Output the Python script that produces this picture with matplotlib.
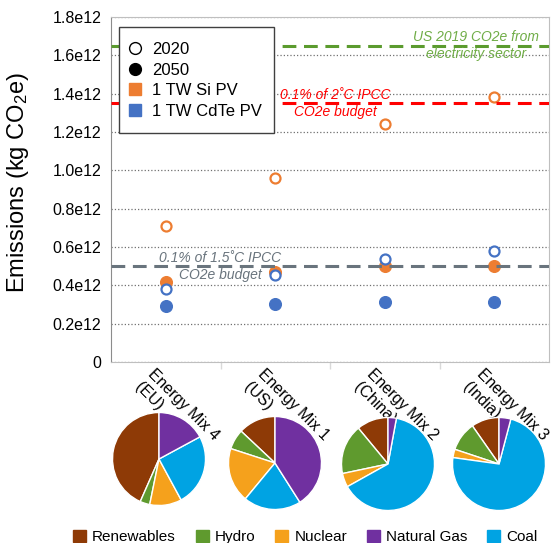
#!/usr/bin/env python3
import matplotlib
matplotlib.use("Agg")
import matplotlib.pyplot as plt
from matplotlib.lines import Line2D
from matplotlib.patches import Patch, Rectangle
from matplotlib.transforms import offset_copy

plt.rcParams["font.family"] = ["Liberation Sans", "DejaVu Sans"]
plt.rcParams["mathtext.fontset"] = "custom"
plt.rcParams["mathtext.rm"] = "Liberation Sans"
plt.rcParams["mathtext.it"] = "Liberation Sans:italic"

# scatter data (kg CO2e), one value per energy mix
mixes = ["Energy Mix 4\n(EU)", "Energy Mix 1\n(US)", "Energy Mix 2\n(China)", "Energy Mix 3\n(India)"]
si_2020 = [0.71e12, 0.96e12, 1.24e12, 1.385e12]
si_2050 = [0.42e12, 0.47e12, 0.50e12, 0.50e12]
cdte_2020 = [0.38e12, 0.455e12, 0.535e12, 0.58e12]
cdte_2050 = [0.29e12, 0.305e12, 0.315e12, 0.315e12]

# reference lines
us_2019 = 1.65e12
ipcc_2c = 1.35e12
ipcc_15c = 0.50e12

yticks = [0, 0.2e12, 0.4e12, 0.6e12, 0.8e12, 1.0e12, 1.2e12, 1.4e12, 1.6e12, 1.8e12]
ytick_labels = ["0", "0.2e12", "0.4e12", "0.6e12", "0.8e12", "1.0e12", "1.2e12", "1.4e12", "1.6e12", "1.8e12"]

# energy mix shares (%), order: renewables, hydro, nuclear, coal, natural gas
sources = ["Renewables", "Hydro", "Nuclear", "Natural Gas", "Coal"]
pie_order = ["Renewables", "Hydro", "Nuclear", "Coal", "Natural Gas"]
mix_eu = [43.4, 3.4, 11.1, 25.0, 17.1]
mix_us = [13.0, 7.0, 19.0, 20.0, 41.0]
mix_china = [11.0, 17.3, 4.8, 64.0, 2.9]
mix_india = [9.7, 10.2, 2.9, 73.1, 4.1]

ORANGE = "#ED7D31"
BLUE = "#4472C4"
src_colors = {
    "Renewables": "#8E3A06",
    "Hydro": "#5F9A2E",
    "Nuclear": "#F5A11C",
    "Natural Gas": "#7030A0",
    "Coal": "#00A3E3",
}

W, H = 552, 543
fig = plt.figure(figsize=(W / 100, H / 100), dpi=100)
ax = fig.add_axes([111 / W, 1 - 362 / H, 438 / W, 345 / H])

x = list(range(len(mixes)))
ax.plot(x, si_2020, "o", ms=7.2, mfc="white", mec=ORANGE, mew=1.6, zorder=3)
ax.plot(x, cdte_2050, "o", ms=8.4, color=BLUE, mec=BLUE, zorder=3)
ax.plot(x, si_2050, "o", ms=8.4, color=ORANGE, mec=ORANGE, zorder=3)
ax.plot(x, cdte_2020, "o", ms=7.2, mfc="white", mec=BLUE, mew=1.6, zorder=3)

ax.axhline(us_2019, color="#5B9B2E", lw=2.2, ls=(0, (4.5, 2.5)), zorder=4)
ax.axhline(ipcc_2c, color="#FF0000", lw=2.2, ls=(0, (4.5, 2.5)), zorder=4)
ax.axhline(ipcc_15c, color="#69747D", lw=2.2, ls=(0, (4.5, 2.5)), zorder=4)

ax.text(2.835, us_2019, "US 2019 CO2e from\nelectricity sector", color="#70AD47", style="italic",
        fontsize=10, ha="center", va="center", linespacing=1.25, zorder=5)
ax.text(1.545, ipcc_2c, "0.1% of 2˚C IPCC\nCO2e budget", color="#FF0000", style="italic",
        fontsize=10, ha="center", va="center", linespacing=1.25, zorder=5)
ax.text(0.5, ipcc_15c, "0.1% of 1.5˚C IPCC\nCO2e budget", color="#69747D", style="italic",
        fontsize=10, ha="center", va="center", linespacing=1.25, zorder=5)

ax.set_xlim(-0.5, 3.5)
ax.set_ylim(0, 1.8e12)
ax.set_yticks(yticks)
ax.set_yticklabels(ytick_labels)
ax.tick_params(axis="y", length=0, pad=7, labelsize=11.5)
ax.set_xticks(x)
ax.set_xticklabels([])
ax.set_xticks([0.5, 1.5, 2.5], minor=True)
ax.tick_params(axis="x", which="major", length=0)
ax.tick_params(axis="x", which="minor", length=5, color="#D9D9D9", width=1)
ax.grid(axis="y", ls=":", color="#707070", lw=0.9)
ax.set_axisbelow(True)
for side in ["top", "right", "bottom"]:
    ax.spines[side].set_color("#BFBFBF")
ax.spines["left"].set_color("#8C8C8C")

ax.set_ylabel("Emissions (kg CO$_2$e)", fontsize=17)
ax.yaxis.set_label_coords(-0.182, 0.52)

lbl_trans = offset_copy(ax.get_xaxis_transform(), fig=fig, x=-10, y=-4, units="dots")
for i, name in enumerate(mixes):
    ax.text(i, 0, name, transform=lbl_trans, rotation=-45, rotation_mode="anchor",
            ha="left", va="top", fontsize=11.5, linespacing=1.3)

# legend box drawn separately so its padding can match
ax.add_patch(Rectangle((8 / 438, (362 - 133) / 345), 155 / 438, 106 / 345,
                       transform=ax.transAxes, facecolor="white", edgecolor="#404040",
                       lw=1, zorder=5, clip_on=False))
handles = [
    Line2D([], [], ls="none", marker="o", ms=8.5, mfc="white", mec="black", mew=1),
    Line2D([], [], ls="none", marker="o", ms=8.5, color="black"),
    Line2D([], [], ls="none", marker="s", ms=8.5, color=ORANGE),
    Line2D([], [], ls="none", marker="s", ms=8.5, color=BLUE),
]
leg = ax.legend(handles, ["2020", "2050", "1 TW Si PV", "1 TW CdTe PV"], loc="upper left",
                bbox_to_anchor=(16 / 438, (362 - 42) / 345), borderaxespad=0, fontsize=12,
                frameon=False, borderpad=0, handlelength=1.0, handletextpad=0.48,
                labelspacing=0.34)
leg.set_zorder(6)

# pies under each category
pies = [(mix_eu, 159, 459), (mix_us, 275, 463), (mix_china, 388, 464), (mix_india, 499, 464)]
r = 46.5
for shares, cx, cy in pies:
    pax = fig.add_axes([(cx - r) / W, 1 - (cy + r) / H, 2 * r / W, 2 * r / H])
    pax.pie(shares, colors=[src_colors[s] for s in pie_order], startangle=90, counterclock=True,
            wedgeprops=dict(edgecolor="white", linewidth=1))
    pax.set_xlim(-1, 1)
    pax.set_ylim(-1, 1)
    pax.set_aspect("equal")
    pax.axis("off")

leg_handles = [Patch(color=src_colors[s]) for s in sources]
fig.legend(leg_handles, sources, loc="center left", bbox_to_anchor=(73 / W, 1 - 537 / H),
           ncol=5, frameon=False, fontsize=11, borderpad=0, borderaxespad=0,
           handlelength=0.85, handleheight=0.85, handletextpad=0.4, columnspacing=1.3)

fig.savefig("out.png", dpi=100)
